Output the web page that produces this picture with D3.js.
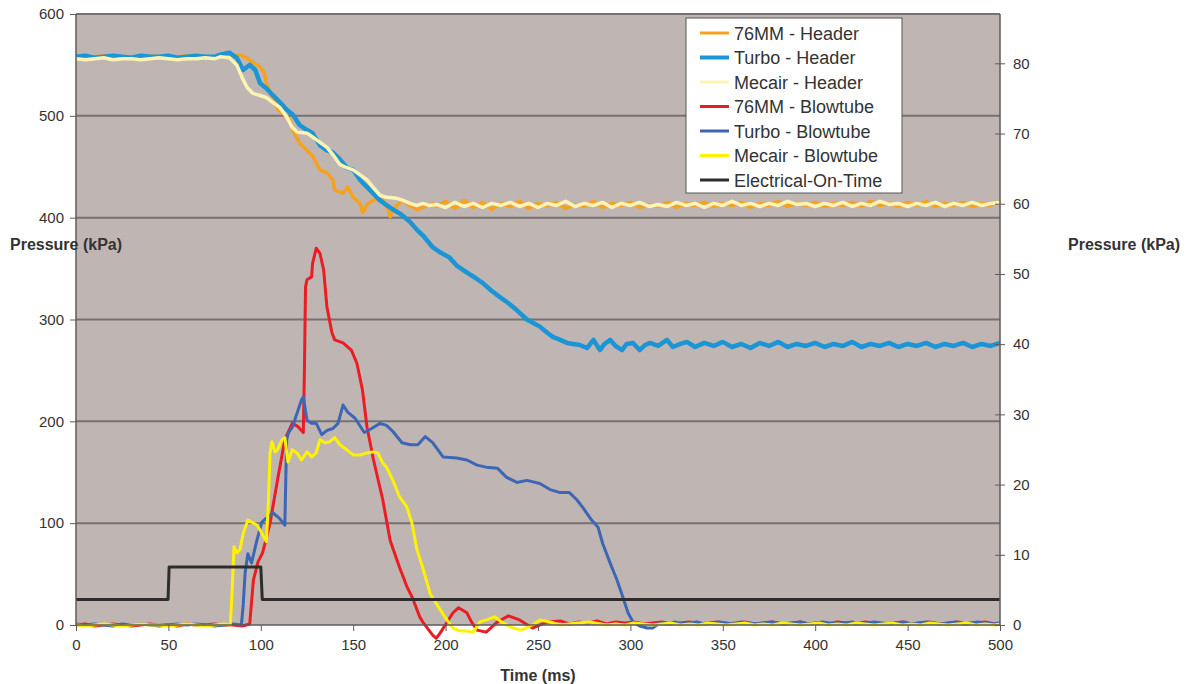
<!DOCTYPE html>
<html>
<head>
<meta charset="utf-8">
<script src="https://cdn.jsdelivr.net/npm/d3@7"></script>
<style>
  body { margin: 0; background: #fff; }
  text { font-family: "Liberation Sans", Arial, sans-serif; fill: #333; }
</style>
</head>
<body>
<div id="chart"></div>
<script>
// series data: [time (ms), pressure (kPa)]
const header76 = [
  [0,558],[5,557],[10,558],[15,559],[20,557],[25,558],[30,558],[35,557],[40,559],[45,558],[50,557],[55,558],[60,559],
  [65,558],[70,557],[75,558],[80,559],[85,558],[88.7,560],[92.5,557],[95.8,552],[99.6,548],[102,542],[103,532],
  [106.6,518],[109.3,506],[112,503],[115.8,496],[117.4,486],[121,473],[125,466],[128.2,460],[132,447],[135.8,444],
  [139,437],[140,427],[144.5,424],[147,430],[150,420],[153.7,414],[155,405],[158,414],[160.7,417],[163.4,419],
  [166,417],[168.8,409],[170,401],[172.6,410],[176.4,417],[180.7,412],[184.5,408],[187.8,410],[193,414],
  [195,411],[200,416],[205,409],[210,417],[215,410],[220,415],[225,408],[230,414],[235,411],[240,416],[245,409],
  [250,414],[255,412],[260,415],[265,409],[270,413],[275,411],[280,416],[285,410],[290,414],[295,412],[300,415],
  [305,410],[310,413],[315,411],[320,415],[325,410],[330,414],[335,412],[340,415],[345,411],[350,414],[355,412],
  [360,415],[365,410],[370,414],[375,412],[380,416],[385,411],[390,414],[395,412],[400,415],[405,411],[410,414],
  [415,412],[420,415],[425,411],[430,416],[435,412],[440,414],[445,411],[450,415],[455,412],[460,416],[465,411],
  [470,414],[475,412],[480,415],[485,411],[490,414],[495,412],[500,416]
];
const headerTurbo = [
  [0,558],[5,559],[10,557],[15,558],[20,559],[25,558],[30,557],[35,559],[40,558],[45,558],[50,559],[55,557],[60,558],
  [65,559],[70,558],[75,558],[78,560],[83,562],[87,557],[90.4,545],[94,550],[97,545],[99.6,532],[103,527],
  [106.6,520],[110,514],[114,506],[117.4,501],[121,491],[125,486],[128,483],[132,471],[135.8,466],[139,464],
  [142.9,457],[146.6,449],[150,447],[153.7,437],[157.5,430],[160.7,424],[164.5,417],[168.3,412],[171.5,408],
  [175.3,404],[180.7,396],[184.5,388],[188,382],[193,371],[197,366],[202,361],[206,353],[211.6,346],[216,341],
  [220,336],[225,328],[229.4,322],[234,316],[238.6,309],[244,300],[251,293],[255,287],[258,283],[262,280],
  [265.7,277],[269,276],[272.7,275],[276.5,272],[280,280],[283.5,270],[286,276],[289,280],[292,274],[295.5,270],
  [298,276],[301.4,277],[305,270],[308,275],[310.6,277],[315,274],[319.8,280],[323,273],[327,276],[330.6,278],
  [335,273],[340,277],[345,274],[350,278],[355,273],[360,276],[365,272],[370,277],[375,274],[380,278],[385,273],
  [390,276],[395,274],[400,277],[405,273],[410,276],[415,274],[420,278],[425,273],[430,276],[435,274],[440,277],
  [445,273],[450,276],[455,274],[460,277],[465,273],[470,276],[475,274],[480,277],[485,273],[490,276],[495,274],
  [500,277]
];
const headerMecair = [
  [0,556],[5,555],[10,556],[15,557],[20,555],[25,556],[30,556],[35,555],[40,556],[45,557],[50,556],[55,555],[60,556],
  [65,556],[70,557],[75,556],[78,558],[83,557],[87,550],[89.8,538],[92.5,528],[95.8,522],[99.6,520],[103,518],
  [106.6,513],[110.4,508],[114,499],[116.9,489],[119.6,484],[125,483],[128.2,479],[132,474],[135.8,469],[139,462],
  [142.9,452],[146.6,449],[150,447],[153.7,442],[157.5,437],[160.7,430],[164.5,422],[168,420],[173.7,419],
  [177,417],[180.7,414],[184.5,412],[187.8,414],[191,412],
  [195,413],[200,410],[205,415],[210,411],[215,414],[220,410],[225,414],[230,412],[235,415],[240,411],[245,414],
  [250,410],[255,414],[260,412],[265,416],[270,411],[275,414],[280,412],[285,415],[290,410],[295,414],[300,412],
  [305,415],[310,411],[315,413],[320,411],[325,415],[330,412],[335,414],[340,410],[345,414],[350,412],[355,416],
  [360,412],[365,414],[370,411],[375,414],[380,412],[385,416],[390,413],[395,414],[400,411],[405,414],[410,412],
  [415,415],[420,411],[425,414],[430,412],[435,416],[440,413],[445,414],[450,411],[455,414],[460,412],[465,415],
  [470,411],[475,414],[480,412],[485,415],[490,412],[495,414],[500,415]
];
const blow76 = [
  [0,0],[5,1],[10,-1],[15,0],[20,1],[25,0],[30,-1],[35,0],[40,1],[45,0],[50,0],[55,-1],[60,1],[65,0],[70,0],[75,1],
  [80,0],[85,0],[90,-1],[94,1],[96,44],[98.5,62],[101,71],[105,100],[109,142],[113,182],[117,198],[120,195],
  [123,189],[123.6,250],[124.2,332],[125,339],[127.5,342],[128,355],[130,370],[132,365],[134,349],[135.8,312],
  [138.5,287],[140,280],[144.5,277],[149,270],[152,257],[155,231],[157.5,194],[161,162],[166,123],[170,83],
  [175,57],[179,38],[182,27],[186,8],[188,2],[193,-10],[195,-13],[197,-8],[200.5,2],[204,12],[207,17],[211.5,12],
  [214,3],[217,-5],[222,-7],[228,3],[234,9],[240,5],[247,-3],[255,3],[262,4],[267,1],[272,3],[277,2],[282,4],
  [287,1],[292,3],[297,2],[302,3],[307,1],[312,2],[317,3],[322,1],[327,2],[332,3],[337,1],[342,2],[347,3],[352,1],
  [357,2],[362,3],[367,1],[372,2],[377,3],[382,1],[387,2],[392,3],[397,1],[402,2],[407,1],[412,3],[417,2],[422,1],
  [427,3],[432,2],[437,1],[442,2],[447,3],[452,1],[457,2],[462,3],[467,1],[472,2],[477,3],[482,1],[487,2],[492,3],
  [497,1],[500,2]
];
const blowTurbo = [
  [0,1],[5,0],[10,1],[15,0],[20,-1],[25,1],[30,0],[35,1],[40,0],[45,-1],[50,0],[55,1],[60,0],[65,1],[70,0],[75,-1],
  [80,0],[85,1],[89.5,0],[90.5,20],[91.5,51],[93,70],[95,61],[98,84],[100.6,101],[103,105],[106.6,110],[110,105],
  [113,98],[113.6,150],[114,182],[115,189],[117,194],[119.6,208],[122,221],[123,224],[125,201],[127.5,198],
  [130,198],[133,187],[135.8,191],[139,193],[141.8,198],[144.5,216],[147,209],[151,203],[156,189],[160,193],
  [164.5,198],[168,196],[171.5,190],[176.4,179],[181,177],[185,177],[189,185],[193,179],[198.6,165],[206,164],
  [211.5,162],[217,157],[222,155],[228,154],[233,145],[238.6,140],[244,142],[251,139],[256.5,133],[262,130],
  [267,130],[271,123],[274.4,115],[279,103],[282.5,96],[285,80],[289,61],[292.8,44],[296,27],[298.7,12],
  [301.4,3],[305,-1],[309,-3],[312,-3],[316,2],[320,1],[324,3],[328,1],[332,2],[336,3],[340,1],[344,2],[348,3],
  [352,2],[356,1],[360,3],[364,2],[368,1],[372,2],[376,3],[380,2],[384,1],[388,2],[392,3],[396,1],[400,2],
  [404,3],[408,2],[412,1],[416,2],[420,3],[424,1],[428,2],[432,3],[436,2],[440,1],[444,2],[448,3],[452,1],
  [456,2],[460,3],[464,2],[468,1],[472,2],[476,3],[480,1],[484,2],[488,3],[492,2],[496,1],[500,2]
];
const blowMecair = [
  [0,0],[5,-1],[10,0],[15,1],[20,0],[25,-1],[30,0],[35,1],[40,0],[45,0],[50,-1],[55,0],[60,1],[65,0],[70,-1],
  [75,0],[80,1],[83.5,0],[84.4,30],[85.5,77],[87,71],[88.7,74],[90.5,90],[93,103],[96,100],[98,98],[100.6,90],
  [103,82],[104,116],[105,169],[106,180],[107.7,170],[109,172],[111.5,182],[113,184],[114.7,160],[117,172],
  [119.6,169],[122,162],[125,170],[127.6,165],[130,169],[132,182],[134.7,179],[137.4,180],[140,184],[142.9,177],
  [146.6,172],[150,167],[153.7,167],[157.5,169],[160.7,170],[163.4,169],[166,159],[168,155],[171.5,142],
  [175,126],[179,116],[181.8,100],[184.5,74],[188,54],[191.6,31],[196,18],[200.7,5],[204,-3],[207.8,-6],
  [211.6,-6],[215,-7],[218.6,3],[222,5],[226.7,8],[231,2],[236.5,-3],[241,-5],[247,0],[251,5],[256.5,3],
  [262,0],[271,2],[278,3],[287,0],[292,1],[297,0],[302,2],[307,1],[312,0],[317,1],[322,2],[327,0],[332,1],
  [337,0],[342,2],[347,1],[352,0],[357,1],[362,2],[367,0],[372,1],[377,0],[382,2],[387,1],[392,0],[397,1],
  [402,2],[407,0],[412,1],[417,0],[422,2],[427,1],[432,0],[437,1],[442,2],[447,0],[452,1],[457,0],[462,2],
  [467,1],[472,0],[477,1],[482,2],[487,0],[492,1],[497,0],[500,1]
];
const electrical = [
  [0,25],[49.8,25],[50.4,57],[100,57],[100.8,25],[500,25]
];

const seriesNames = ["76MM - Header", "Turbo - Header", "Mecair - Header", "76MM - Blowtube",
                     "Turbo - Blowtube", "Mecair - Blowtube", "Electrical-On-Time"];
const seriesData = [header76, headerTurbo, headerMecair, blow76, blowTurbo, blowMecair, electrical];
const seriesColors = ["#f5a21e", "#1b95d6", "#fdf3b4", "#ec1c24", "#3d66b5", "#fff200", "#2d2d2d"];
const seriesWidths = [3.5, 4.5, 3.5, 3, 3, 3, 3];

const xTicks = [0, 50, 100, 150, 200, 250, 300, 350, 400, 450, 500];
const yTicks = [0, 100, 200, 300, 400, 500, 600];
const y2Ticks = [0, 10, 20, 30, 40, 50, 60, 70, 80];

const width = 1191, height = 684;
const margin = {top: 14, right: 191, bottom: 59, left: 76};

const svg = d3.select("#chart").append("svg")
    .attr("width", width)
    .attr("height", height);

const x = d3.scaleLinear().domain([0, 500]).range([margin.left, width - margin.right]);
const y = d3.scaleLinear().domain([0, 600]).range([height - margin.bottom, margin.top]);
// right axis: same pressure in psi
const y2 = d3.scaleLinear().domain([0, 600 * 0.145038]).range([height - margin.bottom, margin.top]);

// plot background
svg.append("rect")
    .attr("x", x(0)).attr("y", y(600))
    .attr("width", x(500) - x(0)).attr("height", y(0) - y(600))
    .attr("fill", "#bfb6b3");

// gridlines
svg.append("g")
  .selectAll("line")
  .data(yTicks.filter(d => d > 0))
  .join("line")
    .attr("x1", x(0)).attr("x2", x(500))
    .attr("y1", d => y(d)).attr("y2", d => y(d))
    .attr("stroke", "#767070")
    .attr("stroke-width", 2);

// lines
const line = d3.line().x(d => x(d[0])).y(d => y(d[1]));
svg.append("g")
  .selectAll("path")
  .data(seriesData)
  .join("path")
    .attr("d", line)
    .attr("fill", "none")
    .attr("stroke", (d, i) => seriesColors[i])
    .attr("stroke-width", (d, i) => seriesWidths[i])
    .attr("stroke-linejoin", "round");

// axes
const xAxis = svg.append("g")
    .attr("transform", `translate(0,${y(0)})`)
    .call(d3.axisBottom(x).tickValues(xTicks).tickSize(6).tickPadding(8));
const yAxis = svg.append("g")
    .attr("transform", `translate(${x(0)},0)`)
    .call(d3.axisLeft(y).tickValues(yTicks).tickSize(6).tickPadding(6));
const y2Axis = svg.append("g")
    .attr("transform", `translate(${x(500)},0)`)
    .call(d3.axisRight(y2).tickValues(y2Ticks).tickSize(5).tickPadding(8));

y2Axis.selectAll(".tick line").attr("x1", -5);

[xAxis, yAxis, y2Axis].forEach(a => {
  a.select(".domain").attr("stroke", "#5f5a5a").attr("stroke-width", 1.5);
  a.selectAll(".tick line").attr("stroke", "#5f5a5a");
  a.selectAll(".tick text").style("font-size", "15px").attr("fill", "#333");
});
xAxis.select(".domain").attr("d", `M${x(0)},0H${x(500)}`);
yAxis.select(".domain").attr("d", `M0,${y(0)}V${y(600)}`);
y2Axis.select(".domain").attr("d", `M0,${y(0)}V${y(600)}`);

// axis titles
svg.append("text")
    .attr("x", x(250)).attr("y", 681)
    .attr("text-anchor", "middle")
    .style("font-size", "16px").style("font-weight", "bold")
    .text("Time (ms)");
svg.append("text")
    .attr("x", 10).attr("y", 250)
    .style("font-size", "16px").style("font-weight", "bold")
    .text("Pressure (kPa)");
svg.append("text")
    .attr("x", 1068).attr("y", 250)
    .style("font-size", "16px").style("font-weight", "bold")
    .text("Pressure (kPa)");

// legend
const legend = svg.append("g").attr("transform", "translate(686,18)");
legend.append("rect")
    .attr("width", 216).attr("height", 175)
    .attr("fill", "#fff")
    .attr("stroke", "#555").attr("stroke-width", 1);
const items = legend.selectAll("g.item")
  .data(seriesNames)
  .join("g")
    .attr("class", "item")
    .attr("transform", (d, i) => `translate(0,${15 + i * 24.5})`);
items.append("line")
    .attr("x1", 14).attr("x2", 43)
    .attr("stroke", (d, i) => seriesColors[i])
    .attr("stroke-width", (d, i) => i === 1 ? 4 : 3);
items.append("text")
    .attr("x", 48).attr("y", 6.5)
    .style("font-size", "18px")
    .text(d => d);
</script>
</body>
</html>
